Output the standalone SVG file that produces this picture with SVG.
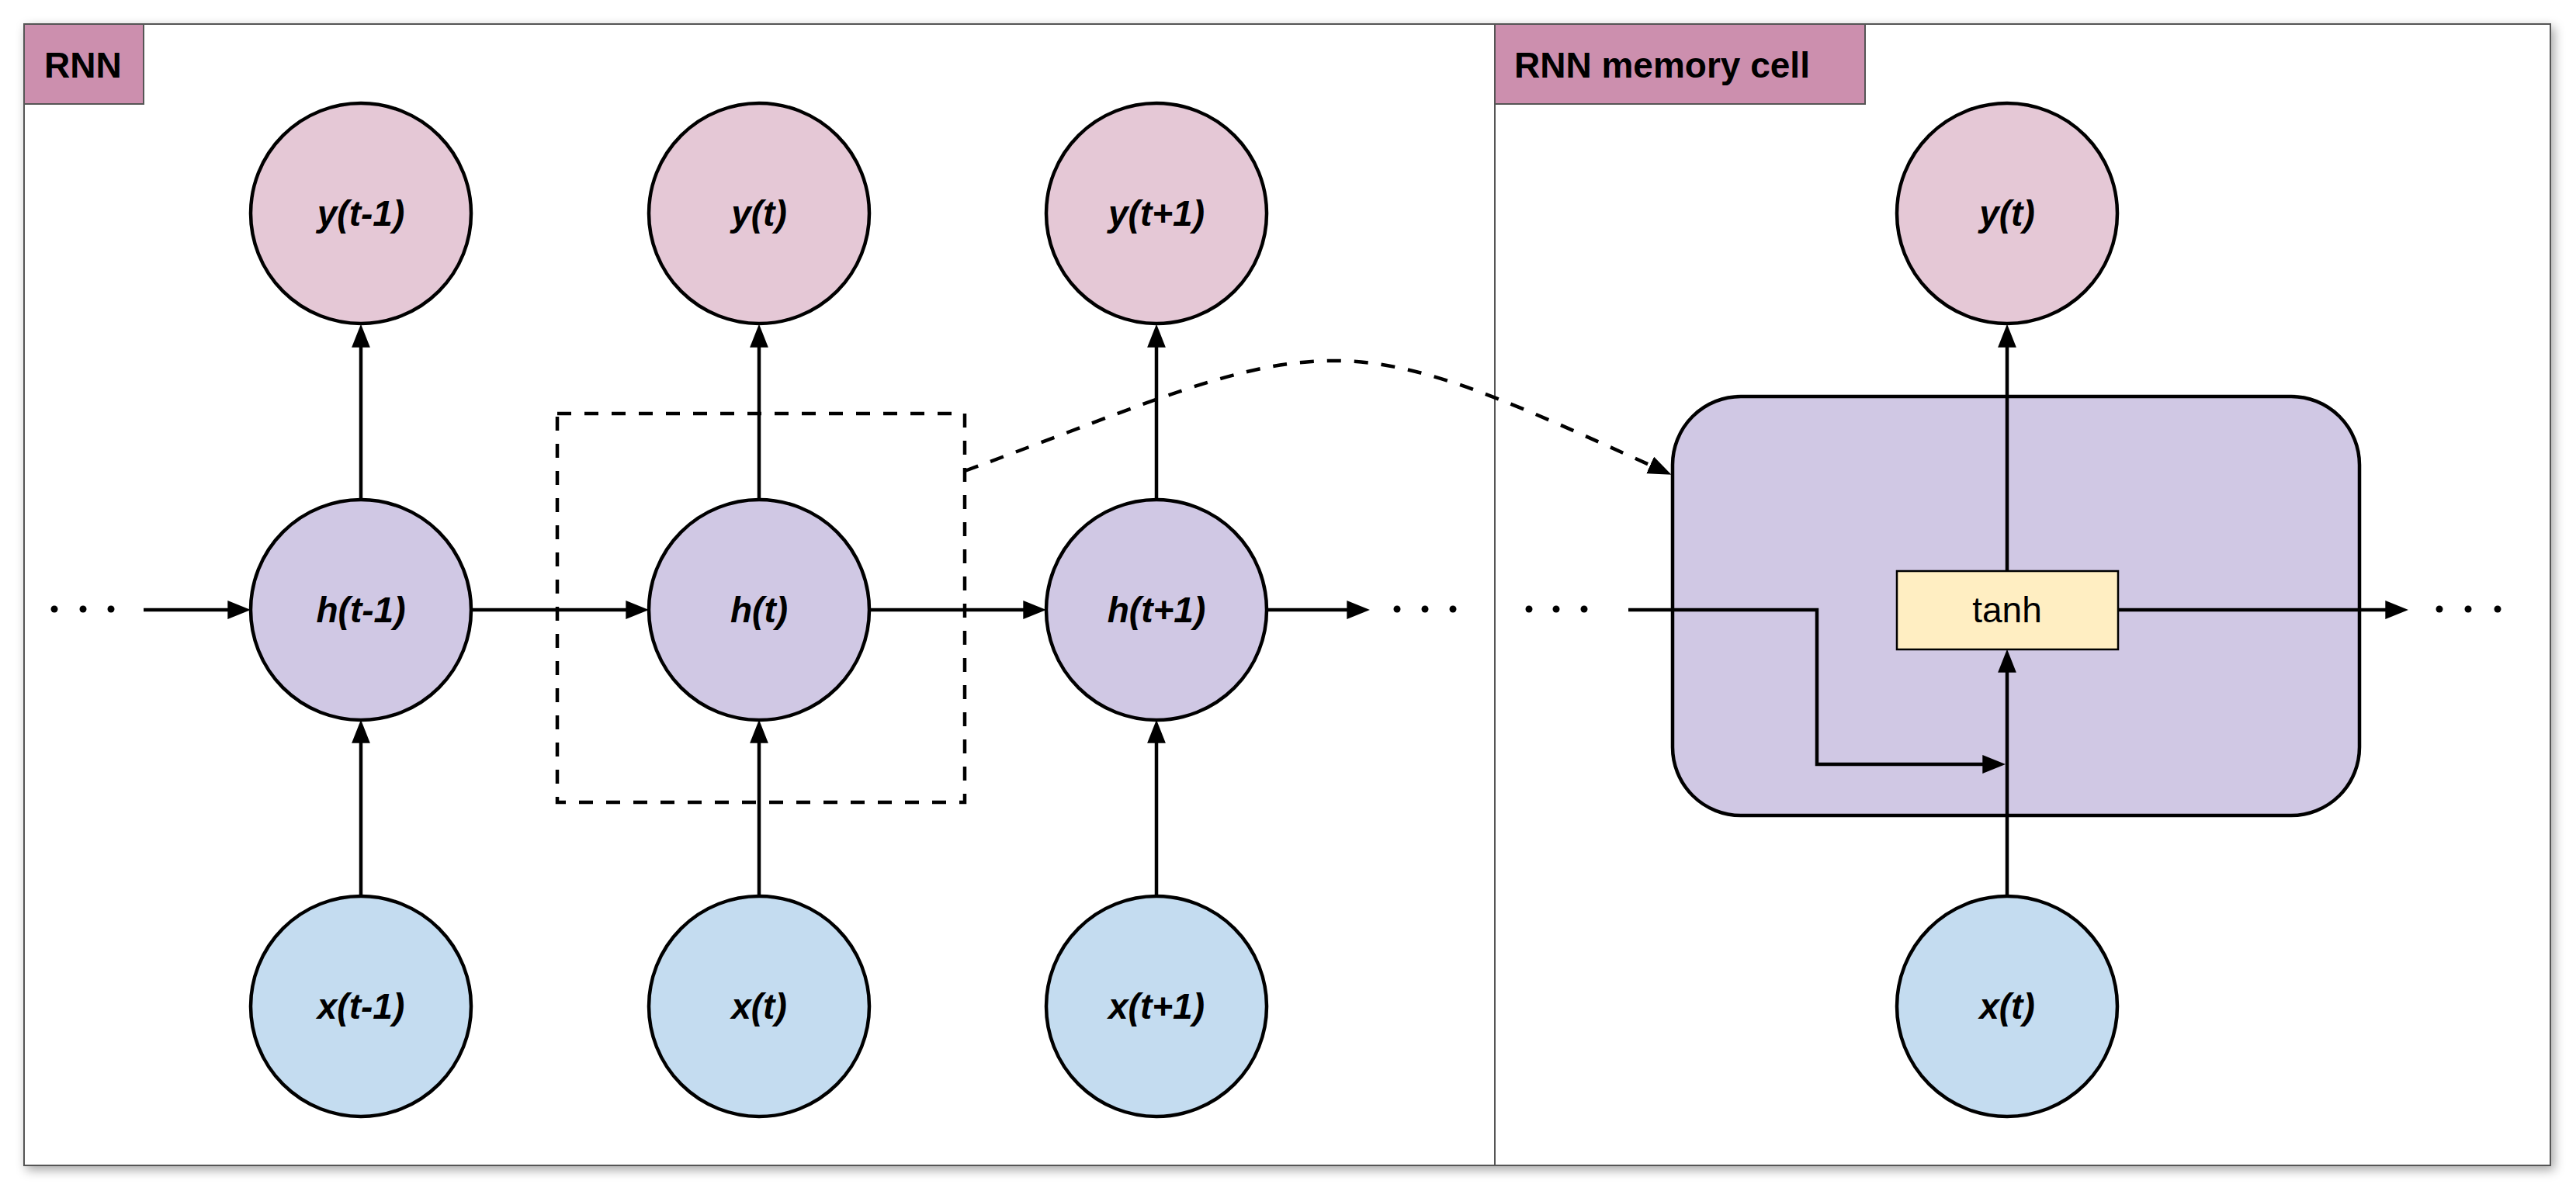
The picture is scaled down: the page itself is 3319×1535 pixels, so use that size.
<svg xmlns="http://www.w3.org/2000/svg" width="3319" height="1535" viewBox="0 0 3319 1535">
<style>
.lbl{fill:#CC8FAE;stroke:#555;stroke-width:2}
.lbltx{font-family:"Liberation Sans",Arial,sans-serif;font-weight:bold;font-size:46px;fill:#000}
.node{stroke:#000;stroke-width:4.5}
.ny{fill:#E5C8D6}
.nh{fill:#D0C8E4}
.nx{fill:#C4DCF0}
.ntx{font-family:"Liberation Sans",Arial,sans-serif;font-weight:bold;font-style:italic;font-size:46px;fill:#000;text-anchor:middle}
.conn{fill:none;stroke:#000;stroke-width:4.5;marker-end:url(#ah)}
.plain{fill:none;stroke:#000;stroke-width:4.5}
.dash{fill:none;stroke:#000;stroke-width:4.5;stroke-dasharray:18 17}
.dot{fill:#000}
</style>
<defs>
<filter id="shadow" x="-5%" y="-5%" width="110%" height="110%">
<feDropShadow dx="4" dy="5" stdDeviation="7" flood-color="#000" flood-opacity="0.35"/>
</filter>
<marker id="ah" markerUnits="userSpaceOnUse" markerWidth="30" markerHeight="24" viewBox="0 0 29 23" refX="20" refY="11.5" orient="auto">
<path d="M0,0L29,11.5L0,23z" fill="#000"/>
</marker>
</defs>
<rect width="3319" height="1535" fill="#fff"/>
<g id="frame">
<rect x="31" y="31" width="3255" height="1471" fill="#fff" stroke="#555" stroke-width="2" filter="url(#shadow)"/>
<line x1="1926" y1="31" x2="1926" y2="1502" stroke="#555" stroke-width="2"/>
</g>
<g id="label-rnn">
<rect class="lbl" x="31" y="31" width="154" height="103"/>
<text class="lbltx" x="57" y="100">RNN</text>
</g>
<g id="label-cell">
<rect class="lbl" x="1926" y="31" width="477" height="103"/>
<text class="lbltx" x="1951" y="100">RNN memory cell</text>
</g>
<g id="cell">
<rect x="2155" y="511" width="885" height="540" rx="88" ry="88" fill="#D0C8E4" stroke="#000" stroke-width="4.5"/>
</g>
<g id="connectors">
<g id="dots">
<circle class="dot" cx="70" cy="785" r="4.5"/><circle class="dot" cx="107" cy="785" r="4.5"/><circle class="dot" cx="143" cy="785" r="4.5"/>
<circle class="dot" cx="1800" cy="785" r="4.5"/><circle class="dot" cx="1836" cy="785" r="4.5"/><circle class="dot" cx="1872" cy="785" r="4.5"/>
<circle class="dot" cx="1970" cy="785" r="4.5"/><circle class="dot" cx="2005" cy="785" r="4.5"/><circle class="dot" cx="2041" cy="785" r="4.5"/>
<circle class="dot" cx="3143" cy="785" r="4.5"/><circle class="dot" cx="3180" cy="785" r="4.5"/><circle class="dot" cx="3218" cy="785" r="4.5"/>
</g>
<line class="conn" x1="185" y1="786" x2="314" y2="786"/>
<line class="conn" x1="607" y1="786" x2="827" y2="786"/>
<line class="conn" x1="1120" y1="786" x2="1339" y2="786"/>
<line class="conn" x1="1632" y1="786" x2="1756" y2="786"/>
<line class="conn" x1="465" y1="1155" x2="465" y2="937"/>
<line class="conn" x1="978" y1="1155" x2="978" y2="937"/>
<line class="conn" x1="1490" y1="1155" x2="1490" y2="937"/>
<line class="conn" x1="465" y1="644" x2="465" y2="427"/>
<line class="conn" x1="978" y1="644" x2="978" y2="427"/>
<line class="conn" x1="1490" y1="644" x2="1490" y2="427"/>
<rect class="dash" x="718" y="533" width="525" height="501"/>
<path class="dash" d="M1243,607 C1480,520 1600,462 1728,465 C1840,468 1950,520 2145,608" marker-end="url(#ah)"/>
<polyline class="conn" points="2098,786 2341,786 2341,985 2575,985"/>
<line class="conn" x1="2586" y1="1155" x2="2586" y2="846"/>
<line class="conn" x1="2586" y1="736" x2="2586" y2="427"/>
<line class="conn" x1="2729" y1="786" x2="3094" y2="786"/>
</g>
<g id="y-t-1"><circle class="node ny" cx="465" cy="275" r="142"/><text class="ntx" x="465" y="291">y(t-1)</text></g>
<g id="y-t"><circle class="node ny" cx="978" cy="275" r="142"/><text class="ntx" x="978" y="291">y(t)</text></g>
<g id="y-t1"><circle class="node ny" cx="1490" cy="275" r="142"/><text class="ntx" x="1490" y="291">y(t+1)</text></g>
<g id="h-t-1"><circle class="node nh" cx="465" cy="786" r="142"/><text class="ntx" x="465" y="802">h(t-1)</text></g>
<g id="h-t"><circle class="node nh" cx="978" cy="786" r="142"/><text class="ntx" x="978" y="802">h(t)</text></g>
<g id="h-t1"><circle class="node nh" cx="1490" cy="786" r="142"/><text class="ntx" x="1490" y="802">h(t+1)</text></g>
<g id="x-t-1"><circle class="node nx" cx="465" cy="1297" r="142"/><text class="ntx" x="465" y="1313">x(t-1)</text></g>
<g id="x-t"><circle class="node nx" cx="978" cy="1297" r="142"/><text class="ntx" x="978" y="1313">x(t)</text></g>
<g id="x-t1"><circle class="node nx" cx="1490" cy="1297" r="142"/><text class="ntx" x="1490" y="1313">x(t+1)</text></g>
<g id="cell-y-t"><circle class="node ny" cx="2586" cy="275" r="142"/><text class="ntx" x="2586" y="291">y(t)</text></g>
<g id="cell-x-t"><circle class="node nx" cx="2586" cy="1297" r="142"/><text class="ntx" x="2586" y="1313">x(t)</text></g>
<g id="tanh">
<rect x="2444" y="736" width="285" height="101" fill="#FFEEC2" stroke="#000" stroke-width="2.5"/>
<text x="2586" y="802" text-anchor="middle" font-family="Liberation Sans, Arial, sans-serif" font-size="46" fill="#000">tanh</text>
</g>
</svg>
